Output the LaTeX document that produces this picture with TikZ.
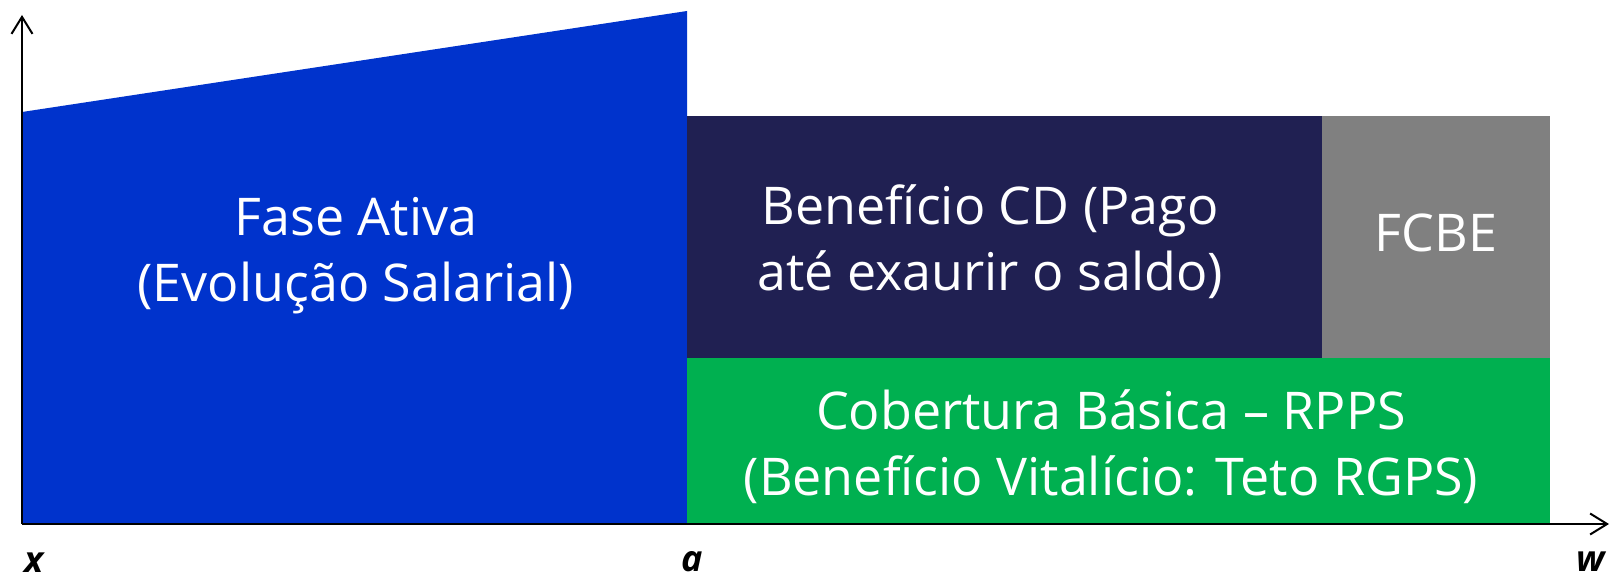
\documentclass[tikz,border=0pt]{standalone}
\usepackage{fontspec}
\setmainfont{Open Sans}
\usetikzlibrary{arrows.meta}
\definecolor{activeblue}{RGB}{0,51,204}
\definecolor{navyblock}{RGB}{32,32,82}
\definecolor{greyblock}{RGB}{128,128,128}
\definecolor{greenblock}{RGB}{0,176,80}
\tikzset{
  bigtext/.style={text=white, align=center, font=\fontsize{52}{66}\selectfont, inner sep=0pt},
  axislabel/.style={font=\fontsize{36}{40}\selectfont\bfseries\itshape, inner sep=0pt},
  axisline/.style={line width=2pt, -{Straight Barb[length=17pt,width=21pt]}},
}
\begin{document}
\begin{tikzpicture}[x=1pt,y=-1pt]
\useasboundingbox (0,0) rectangle (1610,577);
% blocks
\fill[activeblue] (22,524) -- (22,112) -- (687,11) -- (687,524) -- cycle;
\fill[navyblock] (687,116) rectangle (1322,358);
\fill[greyblock] (1322,116) rectangle (1550,358);
\fill[greenblock] (687,358) rectangle (1550,524);
% texts
\node[bigtext] (ativa) at (356,256) {Fase Ativa\\(Evolução Salarial)};
\node[bigtext] (cd) at (990,242) {Benefício CD (Pago\\até exaurir o saldo)};
\node[bigtext] (fcbe) at (1436,233) {FCBE};
\node[bigtext] (basica) at (1111,447) {Cobertura Básica – RPPS\\(Benefício Vitalício: Teto RGPS)};
% axes
\coordinate (origin) at (22,524);
\coordinate (ytip) at (22,15);
\coordinate (xtip) at (1609,524);
\draw[axisline] (origin) -- (ytip);
\draw[axisline] (origin) -- (xtip);
% axis labels
\node[axislabel] (lx) at (34,563) {x};
\node[axislabel] (la) at (692,562) {a};
\node[axislabel] (lw) at (1591,562) {w};
\end{tikzpicture}
\end{document}
